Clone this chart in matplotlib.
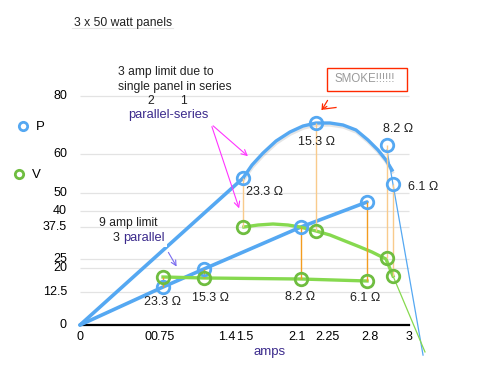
import numpy as np
import matplotlib
matplotlib.use("Agg")
import matplotlib.pyplot as plt
import matplotlib.transforms as mtransforms
import matplotlib.patheffects as pe
from matplotlib.patches import Rectangle

# ---------------- data ----------------
x_ticks = [0, 0.75, 1.4, 1.5, 2.1, 2.25, 2.8, 3]
x_tick_labels = ["0", "0.75", "1.4", "1.5", "2.1", "2.25", "2.8", "3"]
y_ticks = [0, 12.5, 20, 25, 37.5, 40, 50, 60, 80]
y_tick_labels = ["0", "12.5", "20", "25", "37.5", "40", "50", "60", "80"]

# parallel-series measured points
ps_amps = [1.49, 2.195, 2.887, 2.918]
ps_power = [53.85, 70.69, 63.1, 52.3]
ps_volts = [37.5, 35.94, 25.4, 17.5]
ps_ohms = ["23.3 Ω", "15.3 Ω", "8.2 Ω", "6.1 Ω"]

# 3 parallel measured points
par_amps = [0.75, 1.166, 2.12, 2.762]
par_power = [14.06, 19.69, 37.5, 45.0]
par_volts = [17.19, 16.88, 16.56, 15.94]
par_ohms = ["23.3 Ω", "15.3 Ω", "8.2 Ω", "6.1 Ω"]

# hand-drawn power curve (parallel-series)
p_curve_amps = [1.489, 1.581, 1.708, 1.858, 2.019, 2.13, 2.195, 2.288, 2.455,
                2.621, 2.774, 2.841, 2.882, 2.913]
p_curve_power = [53.85, 57.18, 60.34, 64.48, 67.59, 69.65, 70.69, 70.69, 70.0,
                 68.28, 64.83, 61.38, 58.46, 55.9]
# hand-drawn voltage curve (parallel-series)
v_curve_amps = [1.494, 1.65, 1.823, 1.996, 2.115, 2.195, 2.288, 2.48, 2.672,
                2.81, 2.882, 2.918]
v_curve_volts = [37.5, 37.81, 37.97, 37.81, 37.5, 35.94, 34.37, 32.03, 29.69,
                 27.73, 25.0, 17.5]
# thin drop-off lines
p_drop_amps = [2.887, 3.072]
p_drop_power = [61.4, -11.4]
v_drop_amps = [2.918, 3.082]
v_drop_volts = [17.5, -10.2]

# ---------------- piecewise scales (chart's own uneven axes) ----------------
W, H = 478, 388
XV = [-1.0, 0, 0.75, 1.4, 1.5, 2.1, 2.25, 2.8, 3, 4]
XP = [-31, 80, 163, 227, 245, 297, 327, 370, 409, 604]
YV = [-50, 0, 12.5, 20, 25, 37.5, 40, 50, 60, 80, 200]
YP = [457, 325, 292, 268, 259, 227, 211, 193, 154, 96, -252]
YU = [H - p for p in YP]

def fx(v):
    return np.interp(v, XV, XP)

def fx_inv(p):
    return np.interp(p, XP, XV)

def fy(v):
    return np.interp(v, YV, YU)

def fy_inv(u):
    return np.interp(u, YU, YV)

plt.rcParams['font.family'] = ['Liberation Sans', 'DejaVu Sans']

fig = plt.figure(figsize=(W / 100, H / 100), dpi=100)
ax = fig.add_axes([0, 0, 1, 1])
ax.set_xscale('function', functions=(fx, fx_inv))
ax.set_yscale('function', functions=(fy, fy_inv))
ax.set_xlim(float(fx_inv(0)), float(fx_inv(W)))
ax.set_ylim(float(fy_inv(0)), float(fy_inv(H)))
ax.axis('off')

def px(x, y):
    return (x / W, 1 - y / H)

BLUE = '#55a8f2'
GREEN_L = '#86d94f'
GREEN_C = '#6fbd40'
ORANGE = '#f39c1f'
PEACH = '#f9cb8c'
PURPLE = '#3b2a8c'
TXT = '#222222'

# gridlines
ax.hlines([t for t in y_ticks if t != 0], 0, 3, color='#e3e3e3', lw=0.9, zorder=0)
ax.plot([0, 3], [0, 0], color='black', lw=1.6, zorder=1)

# tick labels
bx = mtransforms.blended_transform_factory(ax.transData, fig.transFigure)
for v, lab in zip(x_ticks, x_tick_labels):
    ax.text(v, 1 - 337 / H, lab, transform=bx, ha='center', va='center',
            fontsize=9, color='black')
fig.text(*px(148, 337), "0", ha='center', va='center', fontsize=9, color='black')
by = mtransforms.blended_transform_factory(fig.transFigure, ax.transData)
for v, lab in zip(y_ticks, y_tick_labels):
    ax.text(67 / W, v, lab, transform=by, ha='right', va='center',
            fontsize=9, color='black')

# lines from origin
ax.plot([0, ps_amps[0]], [0, ps_power[0]], color=BLUE, lw=2.6, zorder=3,
        solid_capstyle='round')
ax.plot([0] + par_amps, [0] + par_power, color=BLUE, lw=2.6, zorder=3,
        solid_capstyle='round')

# power curve with subtle shadow
ax.plot(p_curve_amps, p_curve_power, color=BLUE, lw=2.4, zorder=3,
        path_effects=[pe.SimpleLineShadow(offset=(0.3, -1.5), shadow_color='gray',
                                          alpha=0.2), pe.Normal()])
ax.plot(v_curve_amps, v_curve_volts, color=GREEN_L, lw=2.4, zorder=3)
ax.plot(par_amps, par_volts, color=GREEN_L, lw=2.4, zorder=3)
ax.plot(p_drop_amps, p_drop_power, color=BLUE, lw=0.9, zorder=3)
ax.plot(v_drop_amps, v_drop_volts, color=GREEN_L, lw=0.9, zorder=3)

# vertical connectors
ax.vlines(par_amps, par_volts, par_power, color=ORANGE, lw=1.0, zorder=4)
ax.vlines(ps_amps, ps_volts, ps_power, color=PEACH, lw=1.0, zorder=4)

# markers
mk = dict(marker='o', ms=9, mfc='none', mew=2.0, ls='none', zorder=5)
ax.plot(ps_amps, ps_power, mec=BLUE, **mk)
ax.plot(par_amps, par_power, mec=BLUE, **mk)
ax.plot(ps_amps, ps_volts, mec=GREEN_C, **mk)
ax.plot(par_amps, par_volts, mec=GREEN_C, **mk)

# ohm labels
ps_lab_pos = [(265, 192), (316, 142), (398, 129), (423, 187)]
for (x, y), s in zip(ps_lab_pos, ps_ohms):
    fig.text(*px(x, y), s, ha='center', va='center', fontsize=9, color=TXT)
par_lab_pos = [(162, 302), (211, 298), (300, 297), (365, 298)]
for (x, y), s in zip(par_lab_pos, par_ohms):
    fig.text(*px(x, y), s, ha='center', va='center', fontsize=9, color=TXT)

# overlay axes in pixel coordinates for legend/annotations
leg = fig.add_axes([0, 0, 1, 1], facecolor='none')
leg.set_xlim(0, W); leg.set_ylim(H, 0); leg.axis('off')
leg.plot([23], [126], marker='o', ms=6, mfc='white', mec=BLUE, mew=2)
leg.plot([19], [174], marker='o', ms=6, mfc='white', mec=GREEN_C, mew=2)
fig.text(*px(36, 127), "P", ha='left', va='center', fontsize=9.5, color='black')
fig.text(*px(32, 175), "V", ha='left', va='center', fontsize=9.5, color='black')

# annotations
fig.text(*px(74, 23), "3 x 50 watt panels", ha='left', va='center', fontsize=8.7, color=TXT)
leg.plot([72, 173], [27.5, 27.5], color='#e6e6e6', lw=0.8)
fig.text(*px(118, 72), "3 amp limit due to", ha='left', va='center', fontsize=8.7, color=TXT)
fig.text(*px(118, 87), "single panel in series", ha='left', va='center', fontsize=8.7, color=TXT)
fig.text(*px(151, 101), "2", ha='center', va='center', fontsize=8.7, color=TXT)
fig.text(*px(183, 101), "1", ha='center', va='center', fontsize=8.7, color=TXT)
fig.text(*px(168, 115), "parallel-series", ha='center', va='center', fontsize=9.3, color=PURPLE)
fig.text(*px(99, 223), "9 amp limit", ha='left', va='center', fontsize=8.7, color=TXT)
fig.text(*px(113, 238), "3", ha='left', va='center', fontsize=9, color=TXT)
fig.text(*px(123, 238), "parallel", ha='left', va='center', fontsize=9.3, color=PURPLE,
         bbox=dict(boxstyle='square,pad=0.2', fc='white', ec='none'), zorder=6)
fig.text(*px(270, 352), "amps", ha='center', va='center', fontsize=9.5, color=PURPLE)

# SMOKE box
leg.add_patch(Rectangle((327, 68), 80, 23, fill=False, ec='#ff2a00', lw=1.0))
fig.text(*px(365, 79), "SMOKE!!!!!!", ha='center', va='center', fontsize=8.3, color='#9a9a9a')

# arrows (hand drawn)
leg.annotate("", xy=(320, 113), xytext=(329, 98),
             arrowprops=dict(arrowstyle='->', color='#ff2a00', lw=0.9, mutation_scale=9))
leg.plot([324, 336], [109, 107.5], color='#ff2a00', lw=0.9)
leg.annotate("", xy=(250, 158), xytext=(211, 124),
             arrowprops=dict(arrowstyle='->', color='#ff33ff', lw=0.8, mutation_scale=10))
leg.annotate("", xy=(240, 211), xytext=(211, 124),
             arrowprops=dict(arrowstyle='->', color='#ff33ff', lw=0.8, mutation_scale=10))
leg.annotate("", xy=(178, 269), xytext=(167, 250),
             arrowprops=dict(arrowstyle='->', color='#7a6cf0', lw=0.8, mutation_scale=9))

fig.savefig("out.png", dpi=100)
